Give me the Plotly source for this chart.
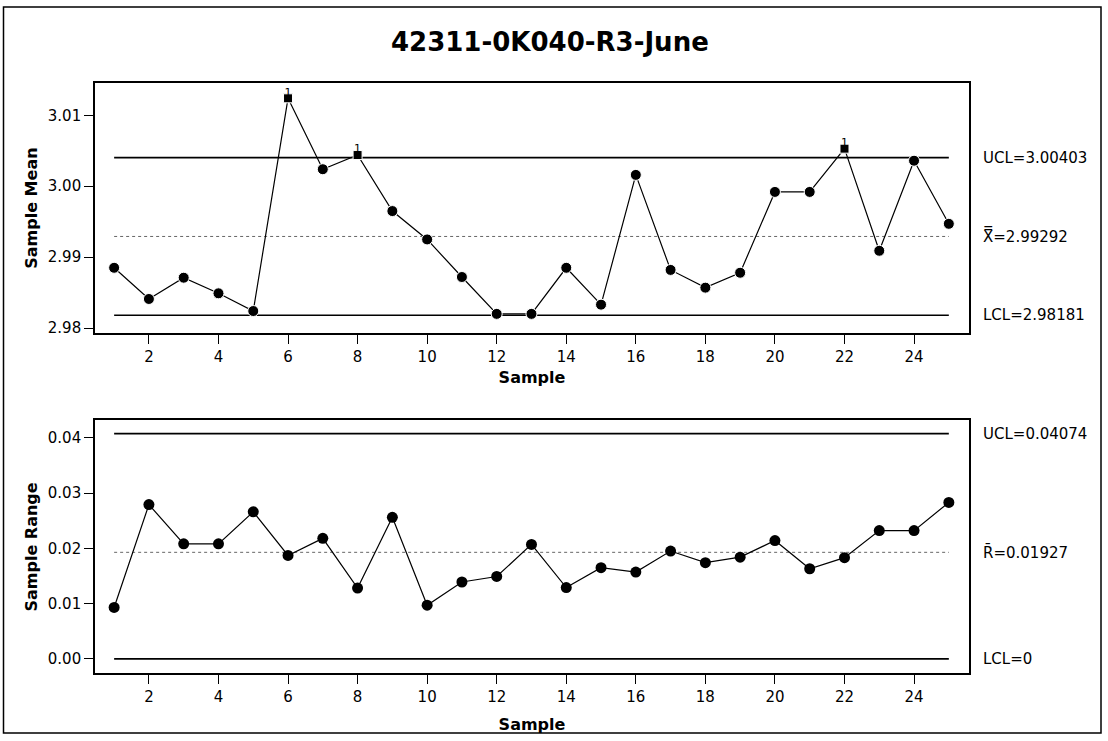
import plotly.graph_objects as go

# ---- data ----
samples = list(range(1, 26))
sample_means = [2.9885, 2.9841, 2.9871, 2.9849, 2.9824, 3.0124, 3.0024, 3.0044, 2.9965, 2.9925,
                2.9872, 2.9820, 2.9820, 2.9885, 2.9833, 3.0016, 2.9882, 2.9857, 2.9878, 2.9992,
                2.9992, 3.0053, 2.9909, 3.0036, 2.9947]
sample_ranges = [0.0093, 0.0279, 0.0208, 0.0208, 0.0266, 0.0187, 0.0218, 0.0128, 0.0256, 0.0097,
                 0.0139, 0.0149, 0.0207, 0.0129, 0.0165, 0.0157, 0.0195, 0.0174, 0.0184, 0.0214,
                 0.0163, 0.0183, 0.0232, 0.0232, 0.0283]
xbar_limits = {"UCL": 3.00403, "CL": 2.99292, "LCL": 2.98181}
r_limits = {"UCL": 0.04074, "CL": 0.01927, "LCL": 0.0}
xbar_labels = ["UCL=3.00403", "X\u033f=2.99292", "LCL=2.98181"]
r_labels = ["UCL=0.04074", "R\u0304=0.01927", "LCL=0"]
title_text = "42311-0K040-R3-June"
x_ticks = list(range(2, 25, 2))
mean_ticks = [2.98, 2.99, 3.00, 3.01]
range_ticks = [0.00, 0.01, 0.02, 0.03, 0.04]

W, H = 1108, 741
FONT = "DejaVu Sans"

def px(x):
    return x / W

def py(y):
    return 1 - y / H

fig = go.Figure()

# out-of-control flags for the mean chart
ooc = [m > xbar_limits["UCL"] or m < xbar_limits["LCL"] for m in sample_means]
symbols = ["square" if f else "circle" for f in ooc]
sizes = [9 if f else 11 for f in ooc]

def limit_lines(lims, xa, ya):
    for key in ["UCL", "CL", "LCL"]:
        if key == "CL":
            line = dict(color="#666666", width=1, dash="dot")
        else:
            line = dict(color="black", width=1.6)
        fig.add_trace(go.Scatter(x=[samples[0], samples[-1]], y=[lims[key], lims[key]],
                                 mode="lines", line=line, xaxis=xa, yaxis=ya,
                                 hoverinfo="skip", showlegend=False))

limit_lines(xbar_limits, "x", "y")
limit_lines(r_limits, "x2", "y2")

fig.add_trace(go.Scatter(x=samples, y=sample_means, mode="lines+markers",
                         line=dict(color="black", width=1.2),
                         marker=dict(color="black", size=sizes, symbol=symbols, opacity=1),
                         xaxis="x", yaxis="y", showlegend=False))
fig.add_trace(go.Scatter(x=samples, y=sample_ranges, mode="lines+markers",
                         line=dict(color="black", width=1.2),
                         marker=dict(color="black", size=11, symbol="circle", opacity=1),
                         xaxis="x2", yaxis="y2", showlegend=False))

# "1" test labels above flagged points
flag_x = [s for s, f in zip(samples, ooc) if f]
flag_y = [m for m, f in zip(sample_means, ooc) if f]
fig.add_trace(go.Scatter(x=flag_x, y=flag_y, mode="text", text=["1"] * len(flag_x),
                         textposition="top center",
                         textfont=dict(family=FONT, size=11, color="black"),
                         xaxis="x", yaxis="y", showlegend=False, cliponaxis=False))

xdom = [px(95), px(969)]
axis_common = dict(showline=True, linecolor="black", linewidth=1.6, mirror=True,
                   ticks="outside", ticklen=9, tickwidth=1.2, tickcolor="black",
                   showgrid=False, zeroline=False,
                   tickfont=dict(family=FONT, size=15, color="black"))
tfont = dict(family=FONT, size=16, color="black")

fig.update_layout(
    width=W, height=H,
    margin=dict(l=0, r=0, t=0, b=0),
    paper_bgcolor="white", plot_bgcolor="white",
    showlegend=False,
    xaxis=dict(domain=xdom, anchor="y", range=[0.45, 25.58], tickvals=x_ticks,
               title=dict(text="<b>Sample</b>", font=tfont, standoff=7),
               **axis_common),
    yaxis=dict(domain=[py(335), py(84)], anchor="x", range=[2.97934, 3.0145],
               tickvals=mean_ticks, tickformat=".2f",
               title=dict(text="<b>Sample Mean</b>", font=tfont, standoff=6),
               **axis_common),
    xaxis2=dict(domain=xdom, anchor="y2", range=[0.45, 25.58], tickvals=x_ticks,
                title=dict(text="<b>Sample</b>", font=tfont, standoff=14),
                **axis_common),
    yaxis2=dict(domain=[py(678), py(423.3)], anchor="x2", range=[-0.00264, 0.04313],
                tickvals=range_ticks, tickformat=".2f",
                title=dict(text="<b>Sample Range</b>", font=tfont, standoff=6),
                **axis_common),
)

annotations = [dict(text="<b>" + title_text + "</b>", x=px(550), y=py(42), xref="paper", yref="paper",
                    showarrow=False, xanchor="center", yanchor="middle",
                    font=dict(family=FONT, size=26, color="black"))]
for lab, key in zip(xbar_labels, ["UCL", "CL", "LCL"]):
    annotations.append(dict(text=lab, x=px(981), y=xbar_limits[key], xref="paper", yref="y",
                            showarrow=False, xanchor="left", yanchor="middle",
                            font=dict(family=FONT, size=15, color="black")))
for lab, key in zip(r_labels, ["UCL", "CL", "LCL"]):
    annotations.append(dict(text=lab, x=px(981), y=r_limits[key], xref="paper", yref="y2",
                            showarrow=False, xanchor="left", yanchor="middle",
                            font=dict(family=FONT, size=15, color="black")))
fig.update_layout(annotations=annotations)

fig.add_shape(type="rect", xref="paper", yref="paper",
              x0=px(3.5), x1=px(1101), y0=py(738), y1=py(7),
              line=dict(color="black", width=1.5))

fig.write_html("out.html")
